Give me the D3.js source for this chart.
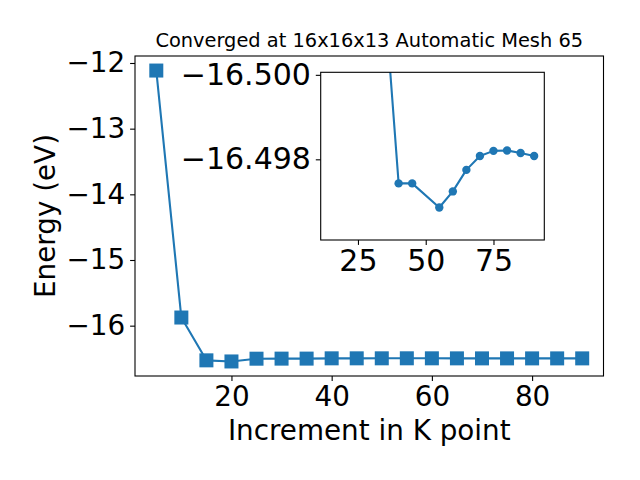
<!DOCTYPE html>
<html>
<head>
<meta charset="utf-8">
<script src="https://cdn.jsdelivr.net/npm/d3@7"></script>
<style>
  body { margin: 0; background: #fff; }
  text { font-family: "DejaVu Sans", sans-serif; fill: #000; }
</style>
</head>
<body>
<svg id="chart" width="640" height="480"></svg>
<script>
// ---- Data ----
const mainK = [5, 10, 15, 20, 25, 30, 35, 40, 45, 50, 55, 60, 65, 70, 75, 80, 85, 90];
const mainE = [-12.115, -15.876, -16.528, -16.545, -16.503, -16.502, -16.5017, -16.4974, -16.4974,
               -16.4972, -16.4969, -16.4972, -16.4978, -16.4981, -16.4982, -16.4982, -16.4982, -16.4981];
const insetK = [15, 20, 25, 30, 35, 40, 45, 55, 60, 65, 70, 75, 80, 85, 90];
const insetE = [-16.528, -16.545, -16.503, -16.502, -16.5017, -16.49743, -16.49743, -16.49686,
                -16.49724, -16.49775, -16.49808, -16.4982, -16.49821, -16.49815, -16.49808];
const mainXTicks = [20, 40, 60, 80];
const mainYTicks = [-16, -15, -14, -13, -12];
const insetXTicks = [25, 50, 75];
const insetYTicks = [-16.500, -16.498];
const insetYLim = [-16.50006, -16.49609];
const titleText = "Converged at 16x16x13 Automatic Mesh 65";
const xLabel = "Increment in K point";
const yLabel = "Energy (eV)";

const color = "#1f77b4";
const svg = d3.select("#chart");

function padDomain(arr) {
  const [a, b] = d3.extent(arr);
  const m = (b - a) * 0.05;
  return [a - m, b + m];
}

// ---- Main axes ----
const M = { left: 135, right: 603.5, top: 56, bottom: 376 };
const x = d3.scaleLinear().domain(padDomain(mainK)).range([M.left, M.right]);
const y = d3.scaleLinear().domain(padDomain(mainE)).range([M.bottom, M.top]);

const fmtInt = d3.format("d");

const gx = svg.append("g").attr("transform", `translate(0,${M.bottom})`)
  .call(d3.axisBottom(x).tickValues(mainXTicks).tickFormat(fmtInt).tickSize(4.9).tickPadding(4.9));
const gy = svg.append("g").attr("transform", `translate(${M.left},0)`)
  .call(d3.axisLeft(y).tickValues(mainYTicks).tickFormat(fmtInt).tickSize(4.9).tickPadding(4.9));
[gx, gy].forEach(g => {
  g.select(".domain").remove();
  g.selectAll(".tick line").attr("stroke", "#000").attr("stroke-width", 1.1);
  g.selectAll(".tick text").style("font-size", "27.8px").style("font-family", "DejaVu Sans");
});

svg.append("rect").attr("x", M.left).attr("y", M.top)
  .attr("width", M.right - M.left).attr("height", M.bottom - M.top)
  .attr("fill", "none").attr("stroke", "#000").attr("stroke-width", 1.1);

const mainData = mainK.map((k, i) => [k, mainE[i]]);
svg.append("path").datum(mainData)
  .attr("fill", "none").attr("stroke", color).attr("stroke-width", 2.1)
  .attr("stroke-linejoin", "round")
  .attr("d", d3.line().x(d => x(d[0])).y(d => y(d[1])));
const sq = 14;
svg.append("g").selectAll("rect").data(mainData).join("rect")
  .attr("x", d => x(d[0]) - sq / 2).attr("y", d => y(d[1]) - sq / 2)
  .attr("width", sq).attr("height", sq).attr("fill", color);

// Title and labels
svg.append("text").attr("x", (M.left + M.right) / 2).attr("y", 47)
  .attr("text-anchor", "middle").style("font-size", "19.4px").text(titleText);
svg.append("text").attr("x", (M.left + M.right) / 2).attr("y", 440)
  .attr("text-anchor", "middle").style("font-size", "27.8px").text(xLabel);
svg.append("text").attr("transform", `translate(55,${(M.top + M.bottom) / 2}) rotate(-90)`)
  .attr("text-anchor", "middle").style("font-size", "27.8px").text(yLabel);

// ---- Inset ----
const I = { left: 320.7, right: 544.3, top: 72.3, bottom: 240 };
const xi = d3.scaleLinear().domain(padDomain(insetK)).range([I.left, I.right]);
const yi = d3.scaleLinear().domain(insetYLim).range([I.top, I.bottom]);

svg.append("rect").attr("x", I.left).attr("y", I.top)
  .attr("width", I.right - I.left).attr("height", I.bottom - I.top)
  .attr("fill", "#fff");

svg.append("clipPath").attr("id", "insetClip").append("rect")
  .attr("x", I.left).attr("y", I.top)
  .attr("width", I.right - I.left).attr("height", I.bottom - I.top);

const insetData = insetK.map((k, i) => [k, insetE[i]]);
const gi = svg.append("g").attr("clip-path", "url(#insetClip)");
gi.append("path").datum(insetData)
  .attr("fill", "none").attr("stroke", color).attr("stroke-width", 2.1)
  .attr("stroke-linejoin", "round")
  .attr("d", d3.line().x(d => xi(d[0])).y(d => yi(d[1])));
gi.selectAll("circle").data(insetData).join("circle")
  .attr("cx", d => xi(d[0])).attr("cy", d => yi(d[1])).attr("r", 4.2).attr("fill", color);

const gxi = svg.append("g").attr("transform", `translate(0,${I.bottom})`)
  .call(d3.axisBottom(xi).tickValues(insetXTicks).tickFormat(fmtInt).tickSize(4.9).tickPadding(4.9));
const gyi = svg.append("g").attr("transform", `translate(${I.left},0)`)
  .call(d3.axisLeft(yi).tickValues(insetYTicks).tickFormat(d3.format(".3f")).tickSize(4.9).tickPadding(4.9));
[gxi, gyi].forEach(g => {
  g.select(".domain").remove();
  g.selectAll(".tick line").attr("stroke", "#000").attr("stroke-width", 1.1);
  g.selectAll(".tick text").style("font-size", "30px").style("font-family", "DejaVu Sans");
});

svg.append("rect").attr("x", I.left).attr("y", I.top)
  .attr("width", I.right - I.left).attr("height", I.bottom - I.top)
  .attr("fill", "none").attr("stroke", "#000").attr("stroke-width", 1.1);
</script>
</body>
</html>
